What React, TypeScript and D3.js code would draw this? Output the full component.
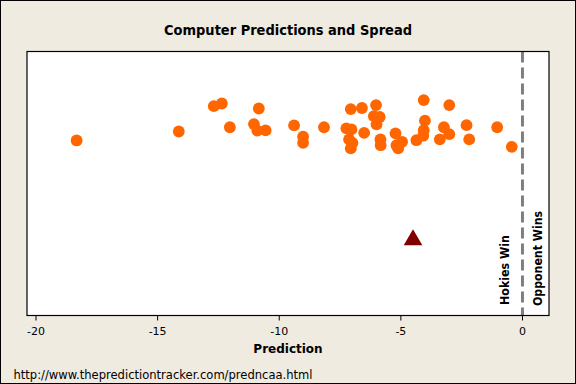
import React from "react";
import * as d3 from "d3";

const predictions: number[] = [
  -18.33, -14.13, -12.69, -12.36, -12.03, -10.84, -11.04, -10.9, -10.56, -9.39,
  -9.02, -9.02, -8.16, -7.06, -6.6, -7.24, -7.03, -7.13, -6.99, -7.06,
  -6.02, -6.11, -5.87, -6.0, -6.51, -5.84, -5.83, -5.22, -5.18, -4.95,
  -5.11, -4.36, -4.06, -4.01, -4.06, -4.08, -3.01, -3.23, -3.01, -3.4,
  -2.3, -2.19, -1.04, -0.44,
];
const jitter: number[] = [
  66.3, 69.7, 79.3, 80.3, 71.3, 78.4, 72.5, 70.0, 70.1, 72.0,
  67.7, 65.4, 71.3, 78.2, 78.6, 70.9, 70.5, 66.7, 65.4, 63.3,
  79.7, 75.5, 75.2, 72.4, 69.2, 66.7, 64.5, 69.0, 64.5, 65.8,
  63.3, 66.4, 81.6, 73.8, 70.2, 68.1, 79.7, 71.3, 68.7, 66.7,
  72.1, 66.7, 71.3, 63.9,
];
const spread: number[] = [-4.5];
const spreadY: number[] = [28.6];
const xTicks: number[] = [-20, -15, -10, -5, 0];
const title = "Computer Predictions and Spread";
const xTitle = "Prediction";
const sourceText = "http://www.thepredictiontracker.com/predncaa.html";
const leftLabel = "Hokies Win";
const rightLabel = "Opponent Wins";

const W = 576;
const H = 384;
const frame = { left: 27, right: 549, top: 51.5, bottom: 315.5 };

export default function App() {
  const x = d3.scaleLinear().domain([-20.37, 1.09]).range([frame.left, frame.right]);
  const y = d3.scaleLinear().domain([0, 100]).range([frame.bottom, frame.bottom - 264]);
  const tri = d3.symbol().type(d3.symbolTriangle).size(150)();
  const font = "Tahoma, 'DejaVu Sans', sans-serif";
  const x0 = x(0);
  return (
    <svg width={W} height={H} style={{ position: "absolute", left: 0, top: 0 }} fontFamily={font}>
      <rect x={0.5} y={0.5} width={W - 1} height={H - 1} fill="#EFEBE1" stroke="#000" />
      <text x={164} y={35} fontSize={14} fontWeight="bold" fill="#000" textLength={248} lengthAdjust="spacingAndGlyphs">{title}</text>
      <rect x={frame.left} y={frame.top} width={frame.right - frame.left} height={frame.bottom - frame.top} fill="#fff" />
      <line x1={x0} x2={x0} y1={frame.top} y2={frame.bottom} stroke="#808080" strokeWidth={3} strokeDasharray="11,5" />
      {predictions.map((p, i) => (
        <circle key={i} cx={x(p)} cy={y(jitter[i])} r={5.9} fill="#FF6600" />
      ))}
      {spread.map((s, i) => (
        <path key={i} d={tri!} transform={`translate(${x(s)},${y(spreadY[i])})`} fill="#800000" />
      ))}
      <text transform={`translate(${x0 - 13},305) rotate(-90)`} fontSize={12.5} fontWeight="bold" fill="#000" textLength={70} lengthAdjust="spacingAndGlyphs">{leftLabel}</text>
      <text transform={`translate(${x0 + 20},306) rotate(-90)`} fontSize={12.5} fontWeight="bold" fill="#000" textLength={95} lengthAdjust="spacingAndGlyphs">{rightLabel}</text>
      <rect x={frame.left} y={frame.top} width={frame.right - frame.left} height={frame.bottom - frame.top} fill="none" stroke="#000" strokeWidth={1.2} />
      {xTicks.map((t) => (
        <g key={t}>
          <line x1={x(t)} x2={x(t)} y1={frame.bottom} y2={frame.bottom + 5} stroke="#000" />
          <text x={x(t)} y={335} textAnchor="middle" fontSize={11} fill="#000">{t}</text>
        </g>
      ))}
      <text x={288} y={353} textAnchor="middle" fontSize={12} fontWeight="bold" fill="#000">{xTitle}</text>
      <text x={13.5} y={379} fontSize={12} fill="#000" textLength={299} lengthAdjust="spacingAndGlyphs">{sourceText}</text>
    </svg>
  );
}
